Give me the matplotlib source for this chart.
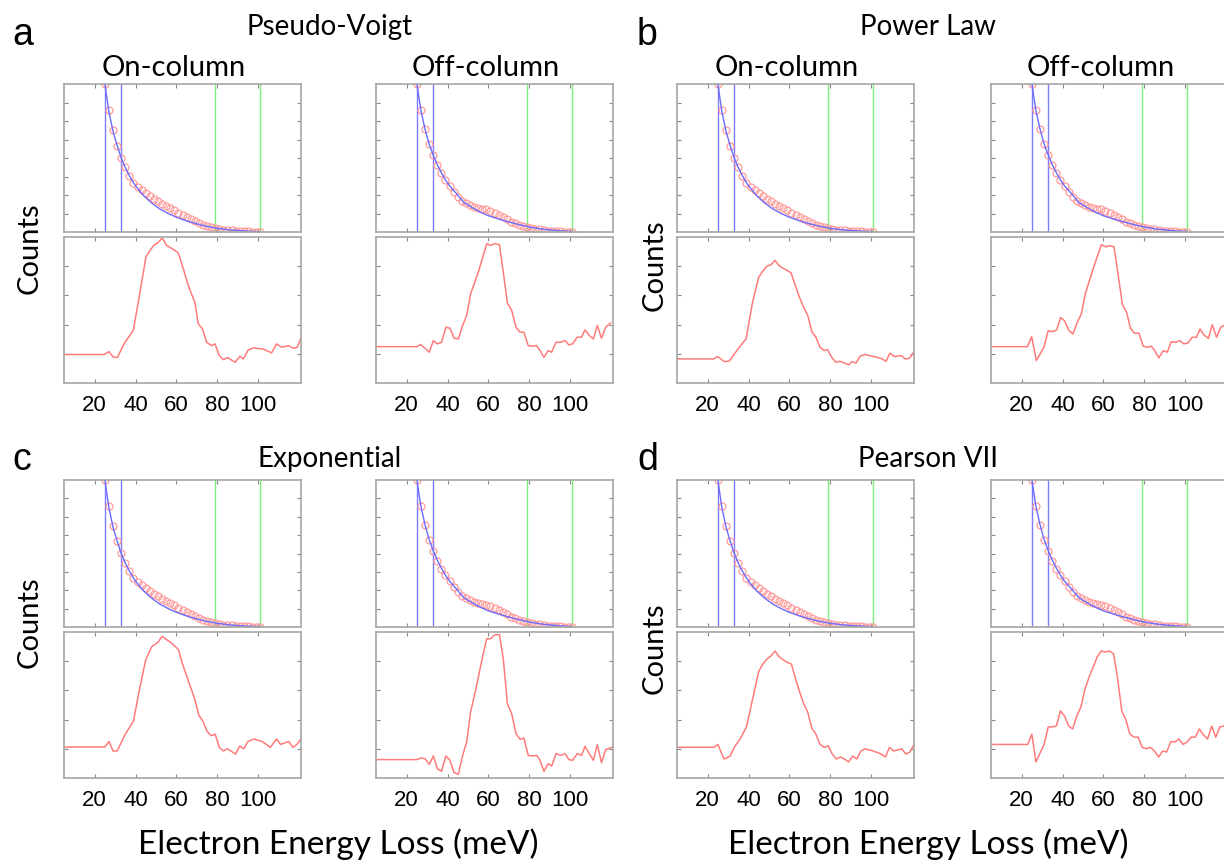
import matplotlib.pyplot as plt

# ---- data (arbitrary units) ----
methods = ['Pseudo-Voigt', 'Power Law', 'Exponential', 'Pearson VII']
letters = ['a', 'b', 'c', 'd']

fit_window = [25, 33]        # blue lines
norm_window = [79, 101]      # green lines

energy_pts = list(range(25, 103, 2))
on_counts = [100.0, 82.4, 68.8, 58.2, 50.3, 43.6, 37.9, 33.4, 30.7, 28.4, 26.2, 24.4, 22.6,
             20.8, 19.2, 17.6, 16.0, 14.7, 13.1, 11.7, 10.2, 8.8, 7.4, 6.1, 5.0, 4.1, 3.2,
             2.5, 2.0, 1.6, 1.4, 1.1, 0.9, 0.7, 0.5, 0.5, 0.2, 0.2, 0.0]
off_counts = [100.0, 82.4, 69.5, 59.4, 51.9, 45.1, 39.7, 35.2, 31.2, 27.1, 23.9, 21.0, 19.4,
              18.1, 17.2, 16.5, 15.8, 15.3, 14.4, 13.1, 11.7, 10.2, 8.6, 7.0, 5.9, 5.0, 4.3,
              3.6, 2.9, 2.3, 1.8, 1.4, 0.9, 0.7, 0.5, 0.5, 0.2, 0.2, 0.0]

energy_fit = [25, 27, 29, 31, 33, 35, 37, 39, 41, 44, 48, 52, 56, 60, 65, 70, 75, 80, 85, 90, 95, 101]
on_fit = [100, 81, 68, 58.5, 50, 43.5, 38, 33.3, 29.5, 24.5, 19.5, 15.5, 12.5, 10, 7.5, 5.5,
          3.8, 2.5, 1.6, 1.0, 0.6, 0.2]
off_fit = [100, 82, 69.5, 59.5, 52, 45.5, 40, 35.2, 31.2, 26.5, 20, 16.5, 13.5, 11, 8.8, 6.8,
           5.0, 3.4, 2.2, 1.4, 0.8, 0.3]

# signal after background subtraction (lower plots)
pv_on_e = [5, 24.7, 27, 29.1, 31.1, 34.8, 38.9, 42.2, 45.1, 47.1, 49.2, 50.8, 53.1, 55.2, 58.5,
           60.9, 63.4, 65.8, 69.1, 70.7, 72.8, 74.8, 77.3, 78.9, 81, 83, 85.1, 88.7, 91.1, 92.8,
           95.2, 97.7, 102.5, 106.6, 109, 111.5, 114.8, 117.2, 119.2, 120.8]
pv_on = [19.5, 19.5, 21.5, 17.8, 17.4, 27.9, 35.9, 62.2, 86.3, 90.8, 94.7, 95.9, 99.3, 94.3, 91.5,
         89.2, 78.3, 66.8, 54.9, 40.5, 37.1, 27.9, 25.6, 26.8, 18.8, 16.0, 17.4, 14.2, 18.3, 16.5,
         22.7, 24.0, 23.3, 20.6, 26.8, 24.5, 25.6, 23.8, 24.5, 30.2]

pv_off_e = [5, 24.9, 26.9, 29, 31.1, 33.1, 35, 37.1, 39.2, 41.2, 43.2, 45.3, 47.4, 49.4, 51.3,
            53.4, 55.6, 57.5, 59.2, 61.1, 63.2, 65.4, 67.3, 69.3, 71.4, 73.5, 75.5, 77.4, 79.5,
            81.7, 83.6, 85.3, 87.2, 89.3, 91, 93.1, 95.4, 97.5, 99.4, 101.2, 103.5, 105.6, 107.3,
            109.4, 111.4, 113.3, 115.4, 117.4, 119.8]
pv_off = [24.9, 24.9, 26.3, 23.8, 21.1, 29.1, 26.8, 27.9, 38.2, 37.5, 30.7, 30.2, 39.4, 46.2, 61.1,
          69.1, 78.3, 87.4, 95.4, 94.3, 95.4, 94.7, 76.0, 54.9, 49.7, 38.2, 34.8, 34.8, 25.6,
          25.2, 25.6, 22.2, 17.6, 22.2, 21.1, 27.9, 27.9, 29.1, 26.1, 26.8, 31.4, 31.4, 36.4,
          32.5, 30.2, 39.4, 30.7, 38.2, 41.0]

pl_on_e = [5, 22.9, 24.9, 28.2, 30.6, 33.1, 35.5, 38.8, 42, 45, 46.9, 49, 51, 53, 55.1, 58, 60.8,
           62.9, 64.9, 66.8, 69, 71.1, 73, 75, 77.1, 78.7, 80.7, 82.8, 84.8, 86.9, 89, 90.6, 92.6,
           94.6, 96.7, 100.8, 104.8, 107.3, 109.2, 111.4, 114.6, 116.7, 118.7, 120.8]
pl_on = [16.5, 16.5, 18.1, 14.6, 15.1, 19.9, 24.5, 30.2, 55.4, 72.5, 76.4, 80.1, 81.0, 84.0, 80.1,
         77.8, 75.5, 66.8, 58.8, 52.6, 46.2, 34.8, 31.4, 24.5, 22.2, 22.9, 17.6, 14.2, 14.9, 13.7,
         12.4, 14.6, 13.7, 18.3, 19.5, 18.3, 16.9, 14.9, 20.4, 18.1, 18.8, 16.5, 16.9, 21.1]

pl_off_e = [5, 22.8, 24.9, 27.2, 30.9, 33, 35, 37.1, 39.1, 41, 43.2, 45.1, 47.2, 49.2, 51.3, 53.4,
            55.4, 57.4, 59, 61.1, 63.2, 65.2, 67.1, 69.3, 71.4, 73.3, 75.3, 77.4, 79.5, 81.5,
            83.5, 85.1, 87.2, 89.3, 91.3, 93.2, 95.4, 97.5, 99.4, 101.4, 103.5, 105.6, 107.3,
            109.2, 111.4, 113.3, 115.4, 117.4, 119.3, 121]
pl_off = [24.9, 24.9, 31.7, 15.4, 24.5, 35.8, 35.1, 36.3, 44.9, 42.6, 35.8, 33.6, 41.5, 47.2, 61.9,
          71.0, 80.0, 88.0, 94.8, 93.2, 94.1, 93.2, 75.5, 54.0, 48.3, 37.4, 34.0, 34.2, 25.2,
          24.5, 25.2, 22.2, 17.2, 22.2, 21.1, 28.3, 27.9, 29.0, 26.8, 27.4, 31.3, 31.3, 37.0,
          32.9, 30.6, 39.9, 31.3, 38.1, 39.7, 40.5]

ex_on_e = [5, 25, 27, 29, 31, 35, 39, 42, 45, 48, 51, 53, 55, 58, 61, 63, 66, 69, 71, 73, 75, 77,
           79, 81, 83, 85, 89, 91, 93, 95, 98, 102, 106, 109, 111, 115, 117, 119, 121]
ex_on = [21.2, 21.2, 25.0, 18.5, 18.5, 30.0, 39.0, 61.0, 81.0, 90.0, 93.0, 97.0, 95.0, 92.0, 88.0,
         78.0, 66.0, 54.0, 43.0, 39.0, 32.0, 29.0, 30.0, 21.0, 18.5, 20.0, 16.4, 21.9, 20.0,
         25.0, 26.7, 25.0, 21.0, 26.7, 23.0, 25.0, 21.0, 23.0, 26.7]

ex_off_e = pv_off_e[:-1] + [120.8]
ex_off = [12.6, 12.6, 13.7, 13.2, 9.4, 15.1, 6.4, 4.6, 15.1, 12.1, 3.7, 2.5, 15.5, 24.7, 45.2,
          57.8, 72.6, 85.2, 95.4, 95.4, 98.2, 98.2, 81.7, 50.9, 44.1, 30.4, 26.5, 27.4, 15.5,
          15.1, 15.5, 12.1, 4.6, 9.8, 8.2, 16.7, 15.5, 16.7, 12.6, 12.1, 16.7, 15.5, 21.7,
          16.7, 12.1, 22.8, 10.5, 19.4, 21.2]

p7_on_e = [5, 23, 25, 28, 31, 33, 36, 39, 42, 45, 47, 49, 51, 53, 55, 58, 61, 63, 65, 67, 69, 71,
           73, 75, 77, 79, 81, 83, 85, 87, 89, 91, 93, 95, 97, 101, 105, 107, 109, 111, 115, 117,
           119, 121]
p7_on = [21, 21, 23, 13, 15, 21, 27, 35, 54, 73, 78, 81.5, 83.6, 87, 82.9, 80, 78, 68, 59, 51, 45,
         34, 30, 23, 21, 22, 16.4, 13, 14.4, 13, 11, 15, 13, 18.5, 20, 18.5, 16.4, 14.4, 21, 18.5,
         20, 16.4, 17.8, 23]

p7_off_e = [5, 23, 25, 27, 31, 33, 35, 37, 39, 41, 43, 45, 47, 49, 51, 53, 55, 57, 59, 61, 63, 65,
            67, 69, 71, 73, 75, 77, 79, 81, 83, 85, 87, 89, 91, 93, 95, 97, 99, 101, 103, 105,
            107, 109, 111, 113, 115, 117, 119, 121]
p7_off = [23, 23, 30, 11, 23, 35, 35, 35.6, 46, 42.5, 35.6, 33.6, 42.5, 48.6, 61, 69, 76, 83, 87,
          86.3, 87, 85, 68, 46, 40, 30, 28, 28, 21, 20, 21, 18.5, 14.4, 18.5, 17.8, 25, 24.7,
          26.7, 23, 24.7, 28, 28, 33.6, 29.5, 26.7, 35.6, 28, 35, 35.6, 36]

signals = {
    'Pseudo-Voigt': [(pv_on_e, pv_on), (pv_off_e, pv_off)],
    'Power Law': [(pl_on_e, pl_on), (pl_off_e, pl_off)],
    'Exponential': [(ex_on_e, ex_on), (ex_off_e, ex_off)],
    'Pearson VII': [(p7_on_e, p7_on), (p7_off_e, p7_off)],
}
tops = [(on_counts, on_fit), (off_counts, off_fit)]

# ---- layout in pixels ----
W, H = 1224, 862
fig = plt.figure(figsize=(W / 100, H / 100), dpi=100)

TXT = 'Lato'
NUM = 'Liberation Sans'
GRAY = '#a6a6a6'

col_left = [[64, 376], [677, 991]]      # left edges of on/off axes
ax_w = 237
row_y = [(85, 233, 238, 384), (481, 628, 633, 779)]


def px_axes(x0, y0, x1, y1):
    return fig.add_axes([x0 / W, 1 - y1 / H, (x1 - x0) / W, (y1 - y0) / H])


def style(ax, nyt, labels):
    for s in ax.spines.values():
        s.set_color(GRAY)
        s.set_linewidth(1.2)
    ax.set_xlim(5, 121)
    ax.set_ylim(0, 100)
    ax.set_xticks([20, 40, 60, 80, 100])
    ax.set_yticks([100 * (i + 1) / (nyt + 1) for i in range(nyt)])
    ax.tick_params(direction='in', length=3, width=0.8, color='#888888',
                   top=True, right=True, labelleft=False, labelbottom=labels,
                   labelsize=16, pad=8)
    for t in ax.get_xticklabels():
        t.set_fontfamily(NUM)


for k, m in enumerate(methods):
    r, c = divmod(k, 2)
    yt0, yt1, yb0, yb1 = row_y[r]
    for j in range(2):
        x0 = col_left[c][j]
        counts, fit = tops[j]
        ax = px_axes(x0, yt0, x0 + ax_w, yt1)
        for v in fit_window:
            ax.axvline(v, color='#7b7bff', lw=1)
        for v in norm_window:
            ax.axvline(v, color='#7bf07b', lw=1)
        ax.plot(energy_pts, counts, 'o', mfc='none', mec='#ff9a9a', ms=5, mew=0.9)
        ax.plot(energy_fit, fit, color='#6b6bff', lw=1)
        style(ax, 7, False)

        e, s = signals[m][j]
        ax2 = px_axes(x0, yb0, x0 + ax_w, yb1)
        ax2.plot(e, s, color='#ff7b7b', lw=1.1)
        style(ax2, 4, True)

    # panel texts
    xl = 12 if c == 0 else 637
    fig.text(xl / W, 1 - (45 + r * 425) / H, letters[k], fontsize=27, family=NUM,
             ha='left', va='baseline')
    xc = 330 if c == 0 else 928
    fig.text(xc / W, 1 - (35 + r * 432) / H, m, fontsize=20, family=TXT,
             ha='center', va='baseline')
    if r == 0:
        for j, lab in enumerate(['On-column', 'Off-column']):
            xm = col_left[c][j] + 110
            fig.text(xm / W, 1 - 76 / H, lab, fontsize=21, family=TXT,
                     ha='center', va='baseline')

counts_pos = [(30, 248), (655, 265), (30, 622), (655, 648)]
for (cx, cy) in counts_pos:
    fig.text(cx / W, 1 - cy / H, 'Counts', fontsize=21, family=TXT, rotation=90,
             ha='center', va='center')

for cx in [338, 928]:
    fig.text(cx / W, 1 - 854 / H, 'Electron Energy Loss (meV)', fontsize=24, family=TXT,
             ha='center', va='baseline')

fig.savefig('out.png', dpi=100)
